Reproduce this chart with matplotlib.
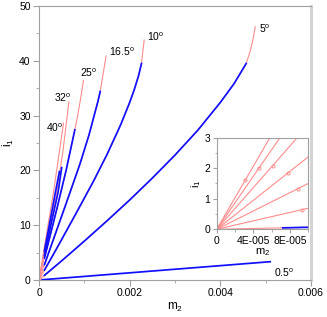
import matplotlib
matplotlib.use("Agg")
import matplotlib.pyplot as plt
from matplotlib.ticker import MultipleLocator, FixedLocator

plt.rcParams['font.family'] = ['Liberation Sans', 'DejaVu Sans']
plt.rcParams['mathtext.fontset'] = 'custom'
plt.rcParams['mathtext.rm'] = 'Liberation Sans'
plt.rcParams['mathtext.it'] = 'Liberation Sans'

# ---------------- data (m2, i1) ----------------
angle_labels = ['0.5', '5', '10', '16.5', '25', '32', '40']

# red curves (full range)
red_m2_05 = [0.0, 0.0001]
red_i1_05 = [0.0, 0.065]
red_m2_5 = [0.0, 0.0001, 0.0005, 0.001, 0.0015, 0.002, 0.0025, 0.003, 0.0035, 0.004, 0.0043,
            0.00457, 0.00466, 0.00472, 0.00477]
red_i1_5 = [0.0, 0.69, 3.5, 7.1, 10.8, 14.6, 18.6, 22.8, 27.3, 32.4, 35.8,
            39.5, 41.8, 43.9, 46.2]
red_m2_10 = [0.0, 0.0001, 0.0004, 0.0008, 0.0012, 0.0015, 0.0018, 0.0020, 0.0021, 0.0022,
             0.00226, 0.00229, 0.00232]
red_i1_10 = [0.0, 1.5, 5.9, 11.9, 18.0, 22.9, 28.3, 32.4, 34.7, 37.4,
             39.5, 41.7, 43.8]
red_m2_165 = [0.0, 0.0001, 0.0003, 0.0006, 0.0009, 0.0011, 0.0013, 0.00135, 0.00141, 0.00148]
red_i1_165 = [0.0, 2.37, 7.0, 14.0, 21.1, 26.4, 32.6, 34.4, 37.4, 40.9]
red_m2_25 = [0.0, 0.0001, 0.0002, 0.0004, 0.0006, 0.00079, 0.00085, 0.00092, 0.00098]
red_i1_25 = [0.0, 3.41, 6.6, 13.2, 20.1, 27.4, 29.9, 33.2, 36.4]
red_m2_32 = [0.0, 0.0001, 0.00038, 0.00052, 0.00066]
red_i1_32 = [0.0, 4.34, 15.5, 23.0, 32.5]
red_m2_40 = [0.0, 0.0001, 0.00031, 0.00043, 0.00054]
red_i1_40 = [0.0, 5.16, 15.5, 22.3, 28.6]

# blue curves
blue_m2_05 = [0.000072, 0.0051]
blue_i1_05 = [0.047, 3.34]
blue_m2_5 = [0.00012, 0.0005, 0.001, 0.0015, 0.002, 0.0025, 0.003, 0.0035, 0.004, 0.0043, 0.00457]
blue_i1_5 = [0.85, 3.5, 7.1, 10.8, 14.6, 18.6, 22.8, 27.3, 32.4, 35.8, 39.5]
blue_m2_10 = [0.00012, 0.0004, 0.0008, 0.0012, 0.0015, 0.0018, 0.0020, 0.0021, 0.0022, 0.00226]
blue_i1_10 = [1.8, 5.9, 11.9, 18.0, 22.9, 28.3, 32.4, 34.7, 37.4, 39.5]
blue_m2_165 = [0.00012, 0.0003, 0.0006, 0.0009, 0.0011, 0.0013, 0.00135]
blue_i1_165 = [2.8, 7.0, 14.0, 21.1, 26.4, 32.6, 34.4]
blue_m2_25 = [0.00012, 0.0002, 0.0004, 0.0006, 0.00079]
blue_i1_25 = [4.0, 6.6, 13.2, 20.1, 27.4]
blue_m2_32 = [0.00012, 0.00025, 0.00042, 0.00050]
blue_i1_32 = [4.5, 9.6, 16.0, 20.5]
blue_m2_40 = [0.00012, 0.00035, 0.00045]
blue_i1_40 = [5.3, 15.5, 19.8]

# small marks on the red curves seen in the inset
kink_m2 = [3.09e-5, 4.65e-5, 6.1e-5, 7.8e-5, 8.83e-5, 9.27e-5]
kink_i1 = [1.60, 2.00, 2.08, 1.85, 1.32, 0.64]

# label anchor positions (m2, i1) for the angle labels
label_m2 = [0.00519, 0.00486, 0.00239, 0.00155, 0.00090, 0.00033, 0.000147]
label_i1 = [1.4, 45.8, 44.3, 41.6, 37.8, 33.3, 27.8]

red_sets = [(red_m2_05, red_i1_05), (red_m2_5, red_i1_5), (red_m2_10, red_i1_10),
            (red_m2_165, red_i1_165), (red_m2_25, red_i1_25), (red_m2_32, red_i1_32),
            (red_m2_40, red_i1_40)]
blue_sets = [(blue_m2_05, blue_i1_05), (blue_m2_5, blue_i1_5), (blue_m2_10, blue_i1_10),
             (blue_m2_165, blue_i1_165), (blue_m2_25, blue_i1_25), (blue_m2_32, blue_i1_32),
             (blue_m2_40, blue_i1_40)]

RED = '#ff8c8c'
BLUE = '#1010ff'
SPINE = '#a0a0a0'

fig = plt.figure(figsize=(3.27, 3.17), dpi=100)
ax = fig.add_axes([0.1193, 0.1167, 0.8318, 0.8644])

for (xm, yi) in red_sets:
    ax.plot(xm, yi, color=RED, lw=0.8, zorder=2, solid_joinstyle='round')
for (xm, yi) in blue_sets:
    ax.plot(xm, yi, color=BLUE, lw=1.25, zorder=3, solid_joinstyle='round')

for lab, lx, ly in zip(angle_labels, label_m2, label_i1):
    ax.text(lx, ly, lab + r'$^{\mathrm{o}}$', fontsize=7.5, ha='left', va='center')

ax.set_xlim(0, 0.006)
ax.set_ylim(0, 50)
ax.xaxis.set_major_locator(FixedLocator([0, 0.002, 0.004, 0.006]))
ax.set_xticklabels(['0', '0.002', '0.004', '0.006'])
ax.xaxis.set_minor_locator(MultipleLocator(0.001))
ax.yaxis.set_major_locator(MultipleLocator(10))
ax.yaxis.set_minor_locator(MultipleLocator(5))
ax.tick_params(which='both', direction='out', color=SPINE, labelsize=7.5, pad=2)
ax.tick_params(which='major', length=4)
ax.tick_params(which='minor', length=2.5)
for s in ['left', 'bottom', 'top']:
    ax.spines[s].set_color(SPINE)
    ax.spines[s].set_linewidth(0.8)
ax.spines['right'].set_color('#d4d4d4')
ax.spines['right'].set_linewidth(2.2)
ax.set_xlabel(r'm$_2$', fontsize=8.5, labelpad=2)
ax.set_ylabel(r'i$_1$', fontsize=8.5, labelpad=2)

# ---------------- inset ----------------
ins = fig.add_axes([0.6627, 0.2767, 0.2804, 0.2895])
for (xm, yi) in red_sets:
    ins.plot(xm, yi, color=RED, lw=0.8, zorder=2)
for (xm, yi) in blue_sets:
    ins.plot(xm, yi, color=BLUE, lw=1.25, zorder=3)
ins.plot(kink_m2, kink_i1, ls='none', marker='o', ms=2.2, mfc='none', mec=RED, mew=0.7)
ins.set_xlim(0, 0.0001)
ins.set_ylim(0, 3)
ins.xaxis.set_major_locator(FixedLocator([0, 4e-5, 8e-5]))
ins.set_xticklabels(['0', '4E-005', '8E-005'])
ins.xaxis.set_minor_locator(MultipleLocator(2e-5))
ins.yaxis.set_major_locator(MultipleLocator(1))
ins.yaxis.set_minor_locator(MultipleLocator(0.5))
ins.tick_params(which='both', direction='out', color=SPINE, labelsize=7.5, pad=1.5)
ins.tick_params(which='major', length=3)
ins.tick_params(which='minor', length=1.8)
for s in ins.spines.values():
    s.set_color(SPINE)
    s.set_linewidth(0.8)
ins.set_xlabel(r'm$_2$', fontsize=8, labelpad=0.5)
ins.set_ylabel(r'i$_1$', fontsize=8, labelpad=1)

fig.savefig('out.png', dpi=100)
